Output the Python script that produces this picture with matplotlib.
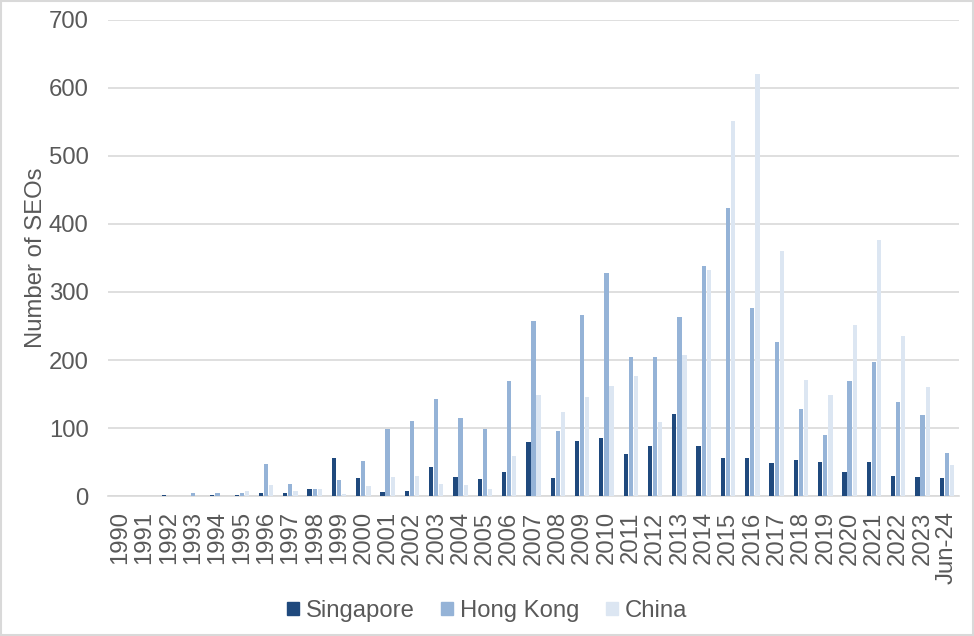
import matplotlib
matplotlib.use('Agg')
from matplotlib import pyplot as plt
from matplotlib.patches import Patch, Rectangle
import numpy as np

plt.rcParams['font.family'] = ['Liberation Sans', 'DejaVu Sans']

years = [str(y) for y in range(1990, 2024)] + ['Jun-24']
singapore = [0, 0, 2, 0, 2, 2, 4, 4, 10, 56, 26, 6, 7, 43, 28, 25, 35, 79, 26, 81,
             85, 62, 73, 121, 73, 56, 56, 48, 53, 50, 35, 50, 29, 28, 26]
hong_kong = [0, 0, 0, 5, 5, 4, 47, 18, 10, 23, 51, 98, 110, 143, 115, 98, 169, 257, 96, 266,
             328, 204, 204, 263, 338, 423, 276, 226, 128, 90, 169, 197, 138, 119, 63]
china = [0, 0, 0, 0, 0, 7, 16, 8, 10, 3, 15, 28, 29, 18, 16, 10, 59, 148, 123, 146,
         162, 176, 109, 207, 332, 551, 620, 360, 171, 148, 251, 376, 235, 160, 46]

colors = ['#1F497D', '#95B3D7', '#DCE6F2']
text_col = '#595959'
fs = 17.2

fig = plt.figure(figsize=(9.74, 6.36), dpi=100)
ax = fig.add_axes([0.1109, 0.2201, 0.8737, 0.7485])

x = np.arange(len(years))
step = 0.21
w = 0.175
ax.bar(x - step, singapore, w, color=colors[0], zorder=3)
ax.bar(x, hong_kong, w, color=colors[1], zorder=3)
ax.bar(x + step, china, w, color=colors[2], zorder=3)

ax.set_xlim(-0.5, len(years) - 0.5)
ax.set_ylim(0, 700)
ax.set_yticks(range(0, 701, 100))
ax.set_xticks(x)
ax.set_xticklabels(years, rotation=90)
ax.tick_params(axis='both', length=0, labelsize=fs, colors=text_col)
ax.tick_params(axis='y', pad=14)
ax.tick_params(axis='x', pad=11)
ax.grid(axis='y', color='#d9d9d9', linewidth=1.2, zorder=0)
for s in ['top', 'right', 'left']:
    ax.spines[s].set_visible(False)
ax.spines['bottom'].set_color('#d9d9d9')
ax.spines['bottom'].set_linewidth(1.2)
ax.set_ylabel('Number of SEOs', fontsize=fs, color=text_col, labelpad=1)

handles = [Patch(color=c) for c in colors]
fig.legend(handles, ['Singapore', 'Hong Kong', 'China'], loc='lower center',
           bbox_to_anchor=(0.5, -0.012), ncol=3, frameon=False, fontsize=fs,
           labelcolor=text_col, handlelength=0.5, handleheight=0.5,
           handletextpad=0.3, columnspacing=1.1)

# light border round the chart
fig.patches.append(Rectangle((0.001, 0.001), 0.998, 0.998, transform=fig.transFigure,
                             fill=False, edgecolor='#d9d9d9', linewidth=1.5))

plt.savefig('out.png', dpi=100)
